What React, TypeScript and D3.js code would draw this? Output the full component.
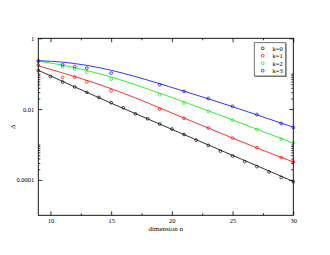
import React, { useEffect, useRef } from 'react'
import * as d3 from 'd3'

// dimension n (x) and Δ (y, log scale)
const pointN = [9, 11, 12, 13, 15, 19, 21, 23, 25, 27, 29, 30]
const blackN = [9, 10, 11, 12, 13, 14, 15, 16, 17, 18, 19, 20, 21, 22, 23, 24, 25, 26, 27, 28, 29, 30]
const blackPts = [0.123, 0.0834, 0.0581, 0.0421, 0.0297, 0.0214, 0.0152, 0.0109, 0.00733, 0.00534, 0.00379,
  0.00274, 0.00192, 0.00133, 0.000944, 0.000653, 0.000472, 0.000329, 0.000238, 0.000168, 0.000117, 0.0000889]
const redPts = [0.175, 0.0782, 0.0802, 0.0592, 0.0331, 0.01, 0.00552, 0.00292, 0.00151, 0.000813, 0.000426, 0.000321]
const greenPts = [0.223, 0.159, 0.135, 0.109, 0.0705, 0.0255, 0.0149, 0.00867, 0.00482, 0.00265, 0.00142, 0.00112]
const bluePts = [0.23, 0.178, 0.159, 0.144, 0.104, 0.0488, 0.0316, 0.02, 0.012, 0.00701, 0.00392, 0.00302]

// fitted curves
const blackLineN = [9, 12, 15, 18, 21, 24, 27, 30]
const blackLine = [0.125, 0.0423, 0.0147, 0.00531, 0.00191, 0.000692, 0.000251, 0.0000902]
const lineN = [9, 11, 13, 15, 17, 19, 21, 23, 25, 27, 30]
const redLine = [0.167, 0.105, 0.0648, 0.0377, 0.0207, 0.0108, 0.00558, 0.00292, 0.00152, 0.000802, 0.000321]
const greenLine = [0.226, 0.175, 0.123, 0.0807, 0.0488, 0.0281, 0.016, 0.00895, 0.00494, 0.00271, 0.00109]
const blueLine = [0.233, 0.212, 0.172, 0.125, 0.0829, 0.052, 0.0321, 0.0195, 0.0117, 0.00687, 0.00308]

const xMajor = [10, 15, 20, 25, 30]
const xMinor = [12.5, 17.5, 22.5, 27.5]
const yMajor = [1, 0.01, 0.0001]
const yMajorLabels = ['1', '0.01', '0.0001']
const yMinor = [0.02, 0.03, 0.04, 0.05, 0.06, 0.07, 0.08, 0.09, 0.1,
  0.0002, 0.0003, 0.0004, 0.0005, 0.0006, 0.0007, 0.0008, 0.0009, 0.001]

const legendLabels = ['k=0', 'k=1', 'k=2', 'k=3']
const colors = ['#000000', '#ff0000', '#00ee00', '#0000ff']

const FONT = '"Liberation Serif", "DejaVu Serif", serif'

export default function App() {
  const svgRef = useRef<SVGSVGElement>(null)

  useEffect(() => {
    if (!svgRef.current) return
    const svg = d3.select(svgRef.current)
    svg.selectAll('*').remove()

    const left = 38.3, right = 293.3, top = 38.3, bottom = 215.3

    const x = d3.scaleLinear().domain([9, 30]).range([left, right])
    const y = d3.scaleLog().domain([1e-5, 1]).range([bottom, top])

    svg.append('rect').attr('width', 330).attr('height', 255).attr('fill', '#fff')

    const g = svg.append('g')

    // curves
    const series = [
      { n: blackLineN, v: blackLine, pn: blackN, pv: blackPts },
      { n: lineN, v: redLine, pn: pointN, pv: redPts },
      { n: lineN, v: greenLine, pn: pointN, pv: greenPts },
      { n: lineN, v: blueLine, pn: pointN, pv: bluePts },
    ]

    const line = d3.line<[number, number]>()
      .x(d => x(d[0]))
      .y(d => y(d[1]))
      .curve(d3.curveMonotoneX)

    series.forEach((s, i) => {
      g.append('path')
        .attr('d', line(s.n.map((n, j) => [n, s.v[j]] as [number, number])))
        .attr('fill', 'none')
        .attr('stroke', colors[i])
        .attr('stroke-width', 0.8)
    })

    series.forEach((s, i) => {
      g.selectAll(null)
        .data(s.pn.map((n, j) => [n, s.pv[j]]))
        .enter()
        .append('circle')
        .attr('cx', d => x(d[0]))
        .attr('cy', d => y(d[1]))
        .attr('r', 1.4)
        .attr('fill', 'none')
        .attr('stroke', colors[i])
        .attr('stroke-width', 0.7)
    })

    // axes (ticks point inwards on all four sides)
    const styleAxis = (sel: d3.Selection<SVGGElement, unknown, null, undefined>) => {
      sel.select('.domain').remove()
      sel.selectAll('line').attr('stroke', '#000').attr('stroke-width', 0.8)
      sel.selectAll('text').attr('font-family', FONT).attr('font-size', 6.5).attr('fill', '#000')
    }

    g.append('g').attr('transform', `translate(0,${bottom})`)
      .call(d3.axisBottom(x).tickValues(xMajor).tickSizeInner(-4).tickSizeOuter(0).tickPadding(3.5)
        .tickFormat(d3.format('d')))
      .call(styleAxis)
    g.append('g').attr('transform', `translate(0,${bottom})`)
      .call(d3.axisBottom(x).tickValues(xMinor).tickSize(-2).tickFormat(() => ''))
      .call(styleAxis)
    g.append('g').attr('transform', `translate(0,${top})`)
      .call(d3.axisTop(x).tickValues(xMajor).tickSize(-4).tickFormat(() => ''))
      .call(styleAxis)
    g.append('g').attr('transform', `translate(0,${top})`)
      .call(d3.axisTop(x).tickValues(xMinor).tickSize(-2).tickFormat(() => ''))
      .call(styleAxis)

    g.append('g').attr('transform', `translate(${left},0)`)
      .call(d3.axisLeft(y).tickValues(yMajor).tickSizeInner(-4).tickSizeOuter(0).tickPadding(4)
        .tickFormat((d, i) => yMajorLabels[i]))
      .call(styleAxis)
    g.append('g').attr('transform', `translate(${left},0)`)
      .call(d3.axisLeft(y).tickValues(yMinor).tickSize(-2).tickFormat(() => ''))
      .call(styleAxis)
    g.append('g').attr('transform', `translate(${right},0)`)
      .call(d3.axisRight(y).tickValues(yMajor).tickSize(-4).tickFormat(() => ''))
      .call(styleAxis)
    g.append('g').attr('transform', `translate(${right},0)`)
      .call(d3.axisRight(y).tickValues(yMinor).tickSize(-2).tickFormat(() => ''))
      .call(styleAxis)

    // frame
    g.append('rect')
      .attr('x', left).attr('y', top)
      .attr('width', right - left).attr('height', bottom - top)
      .attr('fill', 'none').attr('stroke', '#000').attr('stroke-width', 0.9)

    // axis titles
    svg.append('text')
      .attr('x', (left + right) / 2).attr('y', 231)
      .attr('text-anchor', 'middle')
      .attr('font-family', FONT).attr('font-size', 7)
      .text('dimension n')
    svg.append('text')
      .attr('transform', `translate(15,${(top + bottom) / 2}) rotate(-90)`)
      .attr('text-anchor', 'middle')
      .attr('font-family', FONT).attr('font-size', 7)
      .text('Δ')

    // legend
    const lg = svg.append('g')
    lg.append('rect')
      .attr('x', 255.3).attr('y', 43.7).attr('width', 31.4).attr('height', 33.3)
      .attr('fill', '#888')
    lg.append('rect')
      .attr('x', 254.3).attr('y', 42.7).attr('width', 31.4).attr('height', 33.3)
      .attr('fill', '#fff').attr('stroke', '#555').attr('stroke-width', 0.8)
    legendLabels.forEach((lab, i) => {
      const cy = 48.3 + i * 7.45
      lg.append('circle')
        .attr('cx', 262.7).attr('cy', cy).attr('r', 1.4)
        .attr('fill', 'none').attr('stroke', colors[i]).attr('stroke-width', 0.7)
      lg.append('text')
        .attr('x', 272.5).attr('y', cy + 2.3)
        .attr('font-family', FONT).attr('font-size', 6.5)
        .text(lab)
    })
  }, [])

  return (
    <svg
      ref={svgRef}
      width={330}
      height={255}
      style={{ position: 'absolute', left: 0, top: 0, display: 'block' }}
    />
  )
}
